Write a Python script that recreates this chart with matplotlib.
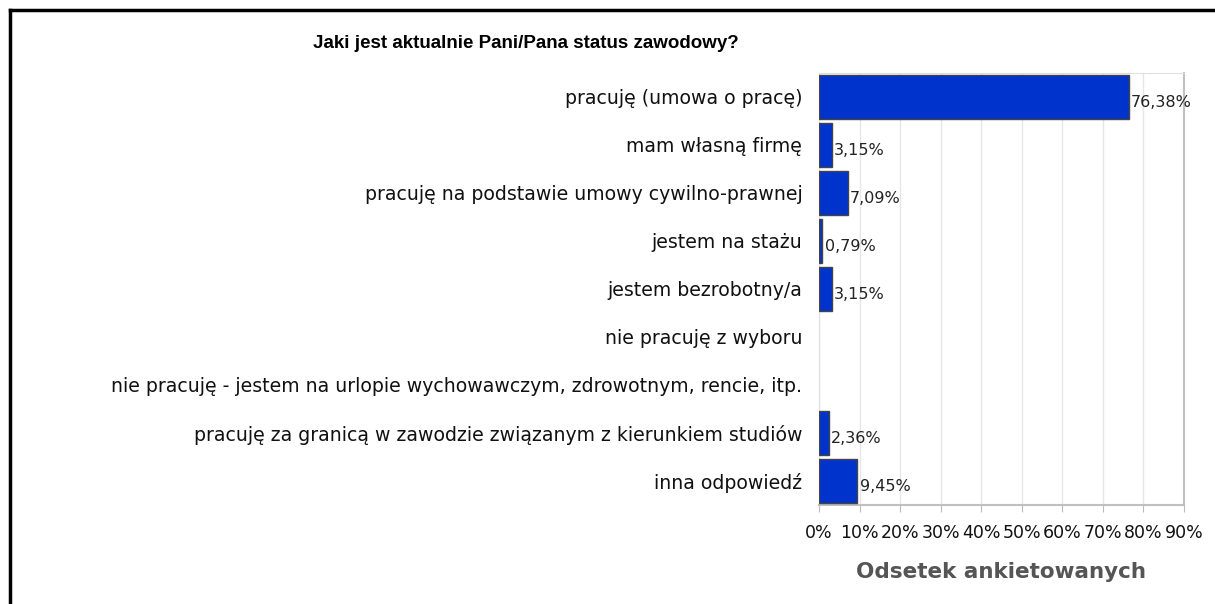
import matplotlib
matplotlib.use("Agg")
import matplotlib.pyplot as plt
from matplotlib.lines import Line2D

categories = [
    "pracuję (umowa o pracę)",
    "mam własną firmę",
    "pracuję na podstawie umowy cywilno-prawnej",
    "jestem na stażu",
    "jestem bezrobotny/a",
    "nie pracuję z wyboru",
    "nie pracuję - jestem na urlopie wychowawczym, zdrowotnym, rencie, itp.",
    "pracuję za granicą w zawodzie związanym z kierunkiem studiów",
    "inna odpowiedź",
]
values = [76.38, 3.15, 7.09, 0.79, 3.15, 0, 0, 2.36, 9.45]
xticks = [0, 10, 20, 30, 40, 50, 60, 70, 80, 90]
xtick_labels = ["0%", "10%", "20%", "30%", "40%", "50%", "60%", "70%", "80%", "90%"]
title = "Jaki jest aktualnie Pani/Pana status zawodowy?"
xlabel = "Odsetek ankietowanych"

W, H = 1215, 604
fig = plt.figure(figsize=(W / 100, H / 100), dpi=100)
ax = fig.add_axes([819 / W, 1 - 505 / H, (1184 - 819) / W, (505 - 73) / H])

y = list(range(len(categories)))
edges = ["#444444" if v > 0 else "none" for v in values]
ax.barh(y, values, height=0.9, color="#0033cc", edgecolor=edges, linewidth=1, zorder=3)
ax.set_ylim(len(categories) - 0.5, -0.5)
ax.set_xlim(0, 90)
ax.set_xticks(xticks)
ax.set_xticklabels(xtick_labels, fontsize=12.5, family="DejaVu Sans", color="#111111")
ax.set_yticks(y)
ax.set_yticklabels(categories, fontsize=13.6, family="DejaVu Sans", color="#111111")
ax.tick_params(axis="y", length=0, pad=12)
ax.tick_params(axis="x", length=5, color="#bbbbbb", pad=9)
ax.grid(axis="x", color="#e6e6e6", linewidth=1, zorder=0)
for s in ["top", "left"]:
    ax.spines[s].set_color("#e0e0e0")
for s in ["bottom", "right"]:
    ax.spines[s].set_color("#c0c0c0")
    ax.spines[s].set_linewidth(1.5)

for yi, v in zip(y, values):
    if v > 0:
        ax.text(v + 0.6, yi + 0.12, f"{v:.2f}%".replace(".", ","), va="center", ha="left",
                fontsize=11.5, family="DejaVu Sans", color="#222222")

ax.set_xlabel(xlabel, fontsize=15.5, fontweight="bold", color="#555555", labelpad=14,
              family="DejaVu Sans")

fig.text(526 / W, 1 - 44 / H, title, ha="center", va="center", fontsize=13.5,
         fontweight="bold", family="Liberation Sans")

fig.add_artist(Line2D([9.5 / W, 9.5 / W], [0, 1 - 10 / H], transform=fig.transFigure,
                      color="black", linewidth=2.5))
fig.add_artist(Line2D([9.5 / W, 1], [1 - 10 / H, 1 - 10 / H], transform=fig.transFigure,
                      color="black", linewidth=2.5))

fig.savefig("out.png", dpi=100)
